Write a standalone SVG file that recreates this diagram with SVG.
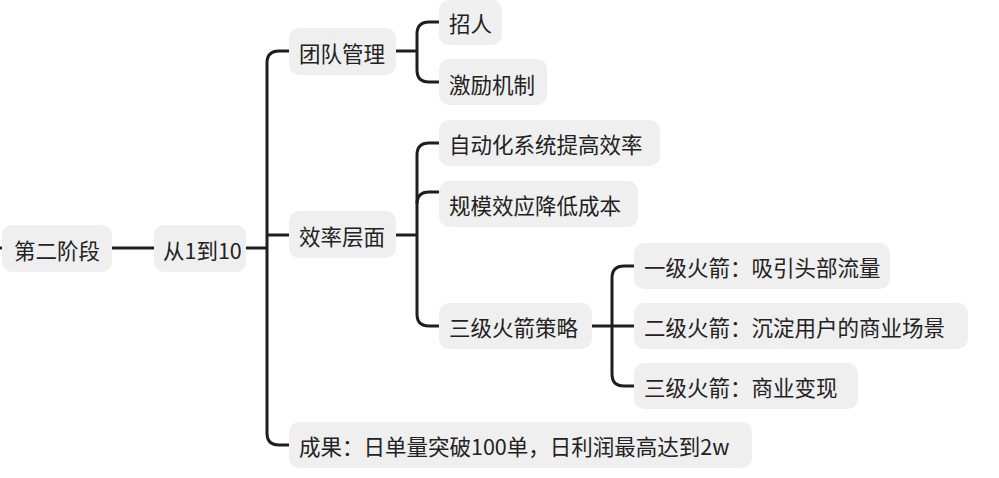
<svg xmlns="http://www.w3.org/2000/svg" width="999" height="478" viewBox="0 0 999 478">
<style>
.n rect{fill:#efefef}
.n text{font-family:"Noto Sans CJK SC","Noto Sans",sans-serif;font-size:21.5px;fill:#222;dominant-baseline:central}
#c path{fill:none;stroke:#1e1e1e;stroke-width:3;stroke-linecap:butt}
</style>
<rect width="999" height="478" fill="#fff"/>
<g id="c">
<path d="M0 248H8"/>
<path d="M112 248H154"/>
<path d="M246 248H267"/>
<path d="M289 51H279Q267 51 267 63V433Q267 445 279 445H289"/>
<path d="M267 235H289"/>
<path d="M396 51H417"/>
<path d="M439 22H429Q417 22 417 34V70Q417 82 429 82H439"/>
<path d="M396 235H417"/>
<path d="M439 143H429Q417 143 417 155V314Q417 326 429 326H439"/>
<path d="M417 204Q417 192 429 192H439"/>
<path d="M592 326H634"/>
<path d="M634 266H624Q612 266 612 278V374Q612 386 624 386H634"/>
</g>
<g id="n1" class="n"><rect x="2" y="225" width="110" height="47" rx="10"/><text x="14" y="249">第二阶段</text></g>
<g id="n2" class="n"><rect x="154" y="225" width="92" height="47" rx="10"/><text x="163" y="249">从1到10</text></g>
<g id="n3" class="n"><rect x="289" y="28" width="107" height="47" rx="10"/><text x="299" y="52">团队管理</text></g>
<g id="n4" class="n"><rect x="439" y="0" width="63" height="45" rx="10"/><text x="449" y="22">招人</text></g>
<g id="n5" class="n"><rect x="439" y="59" width="108" height="46" rx="10"/><text x="449" y="83">激励机制</text></g>
<g id="n6" class="n"><rect x="289" y="211" width="107" height="47" rx="10"/><text x="299" y="235">效率层面</text></g>
<g id="n7" class="n"><rect x="439" y="120" width="221" height="46" rx="10"/><text x="449" y="143">自动化系统提高效率</text></g>
<g id="n8" class="n"><rect x="439" y="181" width="199" height="46" rx="10"/><text x="449" y="204">规模效应降低成本</text></g>
<g id="n9" class="n"><rect x="439" y="303" width="153" height="46" rx="10"/><text x="449" y="326">三级火箭策略</text></g>
<g id="n10" class="n"><rect x="634" y="243" width="256" height="46" rx="10"/><text x="644" y="266">一级火箭：吸引头部流量</text></g>
<g id="n11" class="n"><rect x="634" y="303" width="334" height="46" rx="10"/><text x="644" y="326">二级火箭：沉淀用户的商业场景</text></g>
<g id="n12" class="n"><rect x="634" y="363" width="224" height="46" rx="10"/><text x="644" y="386">三级火箭：商业变现</text></g>
<g id="n13" class="n"><rect x="289" y="422" width="463" height="46" rx="10"/><text x="299" y="445">成果：日单量突破100单，日利润最高达到2w</text></g>
</svg>
